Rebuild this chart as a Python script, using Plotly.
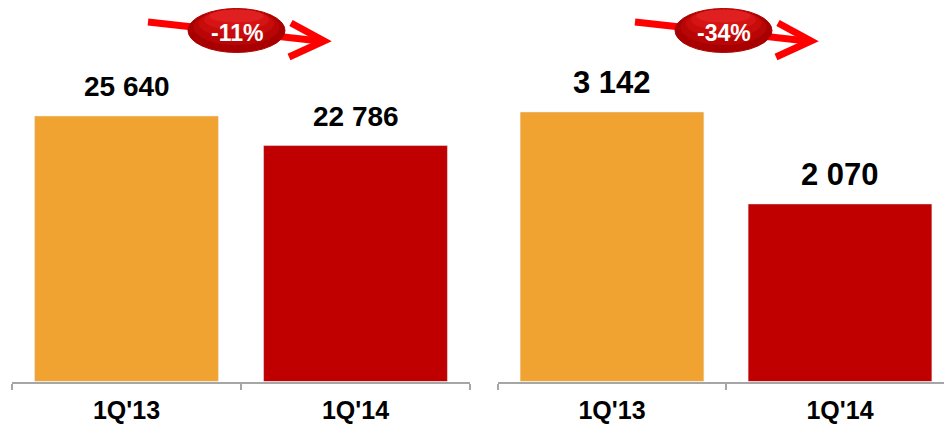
import plotly.graph_objects as go

# Quarterly comparison, two panels
categories = ["1Q'13", "1Q'14"]
left_values = [25640, 22786]
right_values = [3142, 2070]
left_change = "-11%"
right_change = "-34%"

bar_colors = ["#F0A330", "#C00000"]
W, H = 944, 424
FONT = "Arial, Liberation Sans, sans-serif"


def px(x):
    return x / W


def py(y):
    return 1 - y / H


def fmt(v):
    return f"{v:,}".replace(",", " ")


base = 381.5
fig = go.Figure()
fig.add_trace(go.Bar(x=categories, y=left_values, marker_color=bar_colors,
                     width=0.803, xaxis="x", yaxis="y", hoverinfo="skip"))
fig.add_trace(go.Bar(x=categories, y=right_values, marker_color=bar_colors,
                     width=0.806, xaxis="x2", yaxis="y2", hoverinfo="skip"))

axis_common = dict(
    type="category", showline=True, linecolor="#A6A6A6", linewidth=2,
    ticks="outside", tickson="boundaries", ticklen=6, tickwidth=2,
    tickcolor="#A6A6A6", showgrid=False, zeroline=False, ticklabelstandoff=5,
    tickfont=dict(family=FONT, size=25, color="#000000", weight="bold"),
)
fig.update_layout(
    width=W, height=H, margin=dict(l=0, r=0, t=0, b=0),
    paper_bgcolor="white", plot_bgcolor="white", showlegend=False,
    xaxis=dict(domain=[px(12), px(470)], range=[-0.5, 1.5], anchor="y",
               **axis_common),
    xaxis2=dict(domain=[px(498), 1], range=[-0.5, (W - 498) / 228 - 0.5],
                anchor="y2", **axis_common),
    yaxis=dict(domain=[py(base), 1], range=[0, 36842], visible=False),
    yaxis2=dict(domain=[py(base), 1], range=[0, 4448], visible=False,
                anchor="x2"),
)

# value labels above bars
for xa, ya, vals, size, gap in (("x", "y", left_values, 28, 18),
                                ("x2", "y2", right_values, 31, 16)):
    for c, v in zip(categories, vals):
        fig.add_annotation(x=c, y=v, xref=xa, yref=ya, text=fmt(v),
                           showarrow=False, yanchor="bottom", yshift=gap - 6,
                           font=dict(family=FONT, size=size, color="#000000",
                                     weight="bold"))


# change badges: red arrow passing behind a glossy ellipse
def badge(dx, label):
    shapes = []
    shaft = f"M {px(148+dx)} {py(22)} L {px(320+dx)} {py(41)}"
    head = (f"M {px(291+dx)} {py(23)} L {px(324+dx)} {py(41)} "
            f"L {px(289+dx)} {py(57)}")
    for path in (shaft, head):
        shapes.append(dict(type="path", path=path, xref="paper", yref="paper",
                           line=dict(color="#FF0000", width=7), layer="above"))
    cx, cy, rx, ry = 236.5 + dx, 30.5, 48.5, 22
    shapes.append(dict(type="circle", xref="paper", yref="paper",
                       x0=px(cx - rx), x1=px(cx + rx), y0=py(cy + ry),
                       y1=py(cy - ry), fillcolor="#A80000",
                       line=dict(color="#B00000", width=1), layer="above"))
    shades = ["#B80606", "#C80C0C", "#D61414", "#E02020"]
    for i, col in enumerate(shades):
        k = 1 - 0.17 * (i + 1)
        shapes.append(dict(type="circle", xref="paper", yref="paper",
                           x0=px(cx - rx * (0.35 + 0.65 * k)),
                           x1=px(cx + rx * (0.35 + 0.65 * k)),
                           y0=py(cy - ry + 2 * ry * k), y1=py(cy - ry + 1),
                           fillcolor=col, line=dict(width=0), layer="above"))
    fig.add_annotation(x=px(cx), y=py(33), xref="paper", yref="paper",
                       text=label, showarrow=False, xanchor="center",
                       yanchor="middle",
                       font=dict(family=FONT, size=23, color="white",
                                 weight="bold"))
    return shapes


fig.update_layout(shapes=badge(0, left_change) + badge(487, right_change))
fig.write_html("out.html")
